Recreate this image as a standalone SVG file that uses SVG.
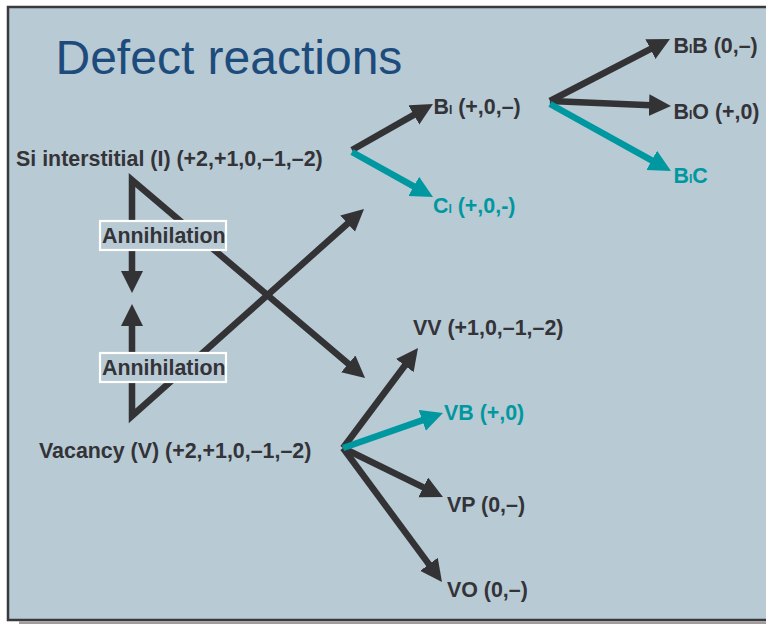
<svg xmlns="http://www.w3.org/2000/svg" width="766" height="624" viewBox="0 0 766 624">
<style>
.lbl{font-family:"Liberation Sans",Arial,sans-serif;font-weight:bold;font-size:21.4px;fill:#333338}
.teal{fill:#0098a0}
.sub{font-size:12px}
.arr{fill:none;stroke:#333336;stroke-width:6.5;stroke-linejoin:miter;stroke-miterlimit:6}
.arrT{fill:none;stroke:#0098a0;stroke-width:6.5}
.box{fill:#b8cad4;stroke:#ffffff;stroke-width:2.2}
</style>
<defs>
<marker id="ah" markerUnits="userSpaceOnUse" markerWidth="24" markerHeight="24" refX="2" refY="11" orient="auto-start-reverse"><path d="M0,0 L22,11 L0,22 z" fill="#333336"/></marker>
<marker id="ahT" markerUnits="userSpaceOnUse" markerWidth="24" markerHeight="24" refX="2" refY="11" orient="auto"><path d="M0,0 L22,11 L0,22 z" fill="#0098a0"/></marker>
</defs>
<rect x="0" y="0" width="766" height="624" fill="#ffffff"/>
<rect x="19" y="621.5" width="760" height="3" fill="#a39b9c"/>
<rect x="8" y="7" width="800" height="613" fill="#b8cad4" stroke="#3a3a3c" stroke-width="2.5"/>
<text id="title" x="55.5" y="74" font-family="'Liberation Sans',Arial,sans-serif" font-size="48" fill="#1d4c7c">Defect reactions</text>
<g id="connectors">
<path class="arr" d="M132,273 L132,180 L349.8,365.1" marker-start="url(#ah)" marker-end="url(#ah)"/>
<path class="arr" d="M132,324 L132,416 L349.1,222.3" marker-start="url(#ah)" marker-end="url(#ah)"/>
<path class="arr" d="M352,150 L415.6,113.9" marker-end="url(#ah)"/>
<path class="arrT" d="M352,152 L415.5,187.3" marker-end="url(#ahT)"/>
<path class="arr" d="M550,101 L652.2,48.2" marker-end="url(#ah)"/>
<path class="arr" d="M550,101 L651,105.2" marker-end="url(#ah)"/>
<path class="arrT" d="M550,104 L653.5,161.3" marker-end="url(#ahT)"/>
<path class="arr" d="M343,448 L406,364" marker-end="url(#ah)"/>
<path class="arr" d="M343,448 L425,488.2" marker-end="url(#ah)"/>
<path class="arr" d="M343,448 L430.1,565.9" marker-end="url(#ah)"/>
<path class="arrT" d="M343,448 L424.1,419.6" marker-end="url(#ahT)"/>
</g>
<g id="ann1"><rect class="box" x="100" y="221" width="126" height="29"/><text class="lbl" x="102" y="243">Annihilation</text></g>
<g id="ann2"><rect class="box" x="100" y="353" width="126" height="29"/><text class="lbl" x="102" y="375">Annihilation</text></g>
<g id="si"><text class="lbl" x="16" y="166">Si interstitial (I) (+2,+1,0,–1,–2)</text></g>
<g id="vac"><text class="lbl" x="39" y="458">Vacancy (V) (+2,+1,0,–1,–2)</text></g>
<g id="bi"><text class="lbl" x="433.5" y="114">B<tspan class="sub">I</tspan> (+,0,–)</text></g>
<g id="ci"><text class="lbl teal" x="433" y="213">C<tspan class="sub">I</tspan> (+,0,-)</text></g>
<g id="bib"><text class="lbl" x="673.5" y="53">B<tspan class="sub">I</tspan>B (0,–)</text></g>
<g id="bio"><text class="lbl" x="673.5" y="119">B<tspan class="sub">I</tspan>O (+,0)</text></g>
<g id="bic"><text class="lbl teal" x="673.5" y="183">B<tspan class="sub">I</tspan>C</text></g>
<g id="vv"><text class="lbl" x="413" y="335">VV (+1,0,–1,–2)</text></g>
<g id="vb"><text class="lbl teal" x="444" y="420">VB (+,0)</text></g>
<g id="vp"><text class="lbl" x="447" y="512">VP (0,–)</text></g>
<g id="vo"><text class="lbl" x="447" y="597">VO (0,–)</text></g>
</svg>
